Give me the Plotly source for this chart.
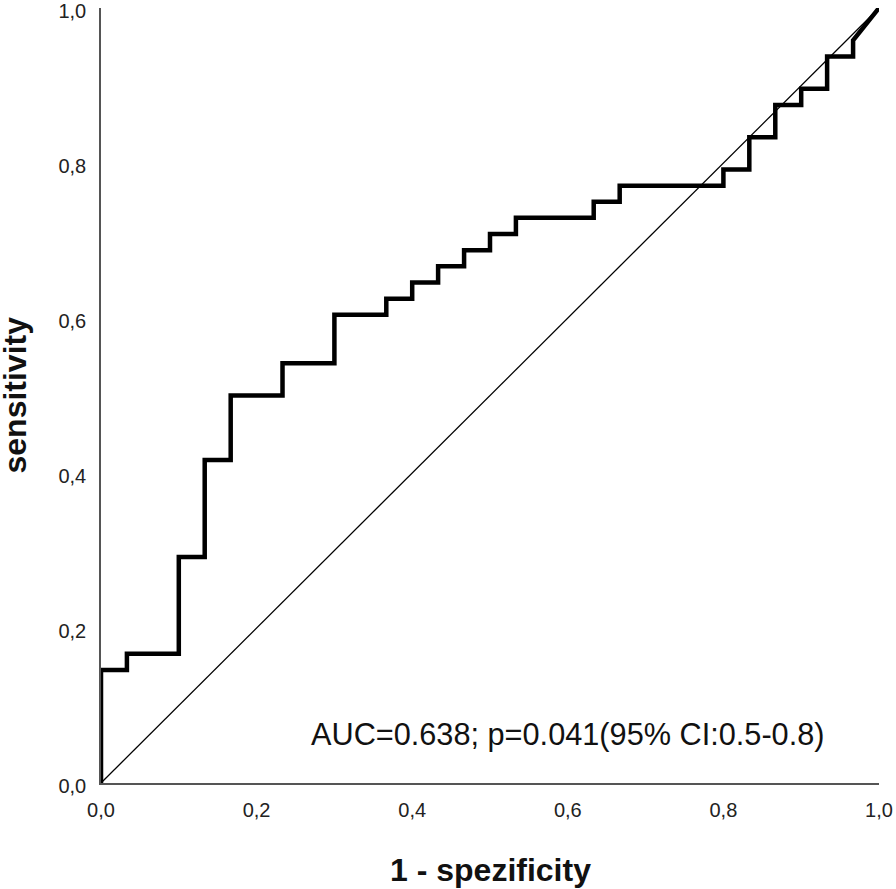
import plotly.graph_objects as go

# ROC curve points (1 - specificity, sensitivity)
fpr = [0.0, 0.0, 0.0333, 0.0333, 0.1, 0.1, 0.1333, 0.1333, 0.1667, 0.1667,
       0.2333, 0.2333, 0.3, 0.3, 0.3667, 0.3667, 0.4, 0.4, 0.4333, 0.4333,
       0.4667, 0.4667, 0.5, 0.5, 0.5333, 0.5333, 0.6333, 0.6333, 0.6667, 0.6667,
       0.8, 0.8, 0.8333, 0.8333, 0.8667, 0.8667, 0.9, 0.9, 0.9333, 0.9333,
       0.9667, 0.9667, 1.0]
tpr = [0.0, 0.1458, 0.1458, 0.1667, 0.1667, 0.2917, 0.2917, 0.4167, 0.4167, 0.5,
       0.5, 0.5417, 0.5417, 0.6042, 0.6042, 0.625, 0.625, 0.6458, 0.6458, 0.6667,
       0.6667, 0.6875, 0.6875, 0.7083, 0.7083, 0.7292, 0.7292, 0.75, 0.75, 0.7708,
       0.7708, 0.7917, 0.7917, 0.8333, 0.8333, 0.875, 0.875, 0.8958, 0.8958, 0.9375,
       0.9375, 0.9583, 1.0]

ref_x = [0.0, 1.0]
ref_y = [0.0, 1.0]

tick_vals = [0.0, 0.2, 0.4, 0.6, 0.8, 1.0]
tick_text = ["0,0", "0,2", "0,4", "0,6", "0,8", "1,0"]

annotation_text = "AUC=0.638; p=0.041(95% CI:0.5-0.8)"
x_title = "1 - spezificity"
y_title = "sensitivity"

FONT = "Liberation Sans, Arial, sans-serif"

fig = go.Figure()
fig.add_trace(go.Scatter(x=ref_x, y=ref_y, mode="lines",
                         line=dict(color="black", width=1.3),
                         showlegend=False, cliponaxis=False, hoverinfo="skip"))
fig.add_trace(go.Scatter(x=fpr, y=tpr, mode="lines",
                         line=dict(color="black", width=4.5),
                         showlegend=False, cliponaxis=False))

fig.add_annotation(x=0.932, y=0.063, xref="x", yref="y", xanchor="right", yanchor="middle",
                   text=annotation_text, showarrow=False,
                   font=dict(family=FONT, size=30.7, color="#111"))

# axis titles
fig.add_annotation(x=0.5, y=0, xref="paper", yref="paper", xanchor="center", yanchor="middle",
                   yshift=-87, text=f"<b>{x_title}</b>", showarrow=False,
                   font=dict(family=FONT, size=32, color="#111"))
fig.add_annotation(x=0, y=0.5, xref="paper", yref="paper", xanchor="center", yanchor="middle",
                   xshift=-87, textangle=-90, text=f"<b>{y_title}</b>", showarrow=False,
                   font=dict(family=FONT, size=32, color="#111"))

fig.update_layout(
    width=896, height=889,
    margin=dict(l=101, r=17, t=8, b=106, autoexpand=False),
    paper_bgcolor="white", plot_bgcolor="white",
    font=dict(family=FONT, size=20, color="#222"),
)
fig.update_xaxes(range=[0, 1], tickvals=tick_vals, ticktext=tick_text,
                 tickfont=dict(family=FONT, size=20, color="#222"),
                 showgrid=False, zeroline=False, showline=True, linecolor="#555", linewidth=1.5,
                 ticks="", ticklabelstandoff=8, automargin=False, ticklabeloverflow="allow")
fig.update_yaxes(range=[0, 1], tickvals=tick_vals, ticktext=tick_text,
                 tickfont=dict(family=FONT, size=20, color="#222"),
                 showgrid=False, zeroline=False, showline=True, linecolor="#555", linewidth=1.5,
                 ticks="", ticklabelstandoff=9, ticklabelshift=3,
                 automargin=False, ticklabeloverflow="allow")

# remove the default 8px page margin so the figure fills the window exactly
fig.write_html("out.html", config={"displayModeBar": False},
               post_script="document.body.style.margin='0';")
